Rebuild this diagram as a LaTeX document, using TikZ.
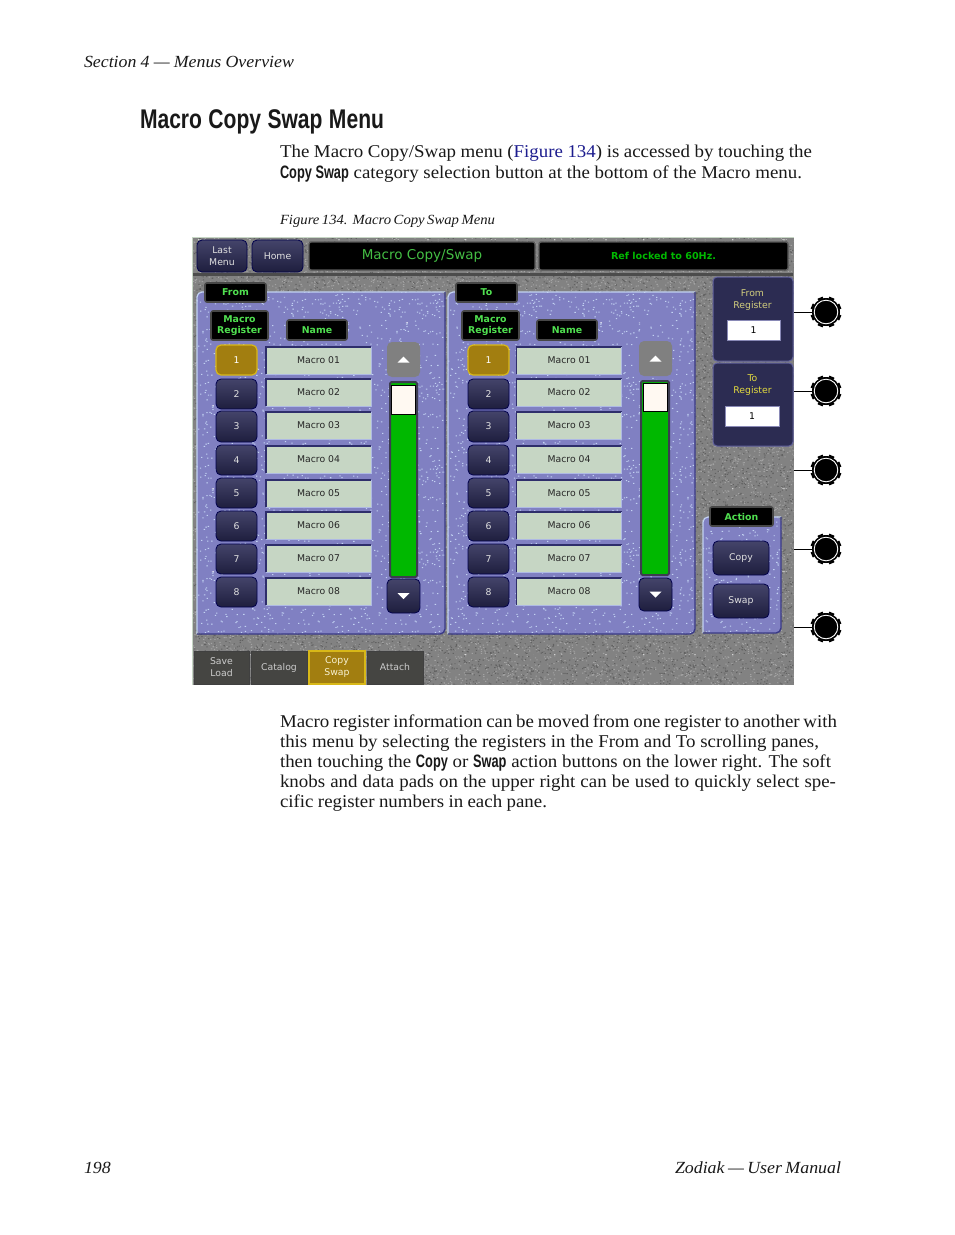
\documentclass[tikz,border=0pt]{standalone}
\usepackage{fontspec}
\setmainfont[FakeStretch=1.05]{Liberation Serif}
\newfontfamily\condf[FakeStretch=0.78]{Liberation Sans}
\newfontfamily\condg[FakeStretch=0.71]{Liberation Sans}
\newfontfamily\uif{DejaVu Sans}
\usetikzlibrary{calc,patterns}
\pgfmathsetseed{134}
\newcommand{\speckbody}[1]{\foreach \i in {1,...,#1}{\pgfmathsetmacro\rx{rnd*95.5}\pgfmathsetmacro\ry{rnd*82}\pgfpathrectangle{\pgfpoint{\rx pt}{\ry pt}}{\pgfqpoint{1.3pt}{1pt}}\pgfusepath{fill}}}
\pgfdeclarepatternformonly{speckA}{\pgfqpoint{0pt}{0pt}}{\pgfqpoint{97pt}{83pt}}{\pgfqpoint{97pt}{83pt}}{\speckbody{420}}
\pgfdeclarepatternformonly{speckB}{\pgfqpoint{0pt}{0pt}}{\pgfqpoint{89pt}{83pt}}{\pgfqpoint{89pt}{83pt}}{\speckbody{420}}
\pgfdeclarepatternformonly{speckC}{\pgfqpoint{0pt}{0pt}}{\pgfqpoint{97pt}{83pt}}{\pgfqpoint{97pt}{83pt}}{\speckbody{180}}
\definecolor{pgray}{HTML}{828282}
\definecolor{ppurple}{HTML}{8080C2}
\definecolor{pdark}{HTML}{3A3A86}
\definecolor{plight}{HTML}{C2D2F2}
\definecolor{btnt}{HTML}{44446A}
\definecolor{btnm}{HTML}{2C2C50}
\definecolor{btnb}{HTML}{1E1E3E}
\definecolor{fieldc}{HTML}{C6D6C4}
\definecolor{uigreen}{HTML}{50E050}
\definecolor{linkblue}{HTML}{1C1C8E}
\definecolor{goldc}{HTML}{A27E10}
\definecolor{goldl}{HTML}{D8B818}
\definecolor{tabc}{HTML}{454542}
\definecolor{regc}{HTML}{2C2C52}
\definecolor{trackc}{HTML}{3C3C50}
\tikzset{
  uibase/.style={anchor=north west,inner sep=0pt,outer sep=0pt,align=center},
  uitext/.style={font=\uif\fontsize{9.3}{12}\selectfont},
  btn/.style={uibase,uitext,text=white!88!black,rounded corners=5pt,draw=black!70!blue,line width=.8pt,top color=btnt,middle color=btnm,bottom color=btnb},
  gold/.style={uibase,uitext,text=white,rounded corners=5pt,draw=goldl,line width=1.2pt,fill=goldc},
  field/.style={uibase,uitext,text=black!85,fill=fieldc},
  lbl/.style={uibase,font=\uif\bfseries\fontsize{9.4}{12}\selectfont,text=uigreen,fill=black,draw=black!72,line width=1.6pt,rounded corners=2pt},
  title/.style={uibase,fill=black,draw=black!65,line width=1.4pt,rounded corners=2pt},
  panel/.style={uibase,fill=ppurple,rounded corners=5pt},
  hl/.style={plight,line width=1.2pt},
  sh/.style={pdark,line width=1.4pt},
  fdark/.style={black!20!pdark,line width=1.3pt},
  flight/.style={plight!70!ppurple,line width=1pt},
  tab/.style={uibase,uitext,text=white!80!black,fill=tabc,draw=black!75,line width=.8pt},
  goldtab/.style={uibase,uitext,text=white!80!goldl,fill=goldc,draw=goldl,line width=1.4pt},
  reg/.style={uibase,rounded corners=4pt,fill=regc,draw=pdark!80,line width=1pt},
  regf/.style={uibase,uitext,fill=white,draw=pdark!60,line width=1pt},
  track/.style={uibase,fill=green!72!black,draw=trackc,line width=2pt,rounded corners=1.5pt},
  thumb/.style={uibase,fill=white!95!orange,draw=black,line width=.6pt},
  upbtn/.style={uibase,rounded corners=5pt,fill=black!50},
  txt/.style={anchor=base west,inner sep=0pt,outer sep=0pt,text=black!90},
  arrowmark/.style={fill=white},
  knobline/.style={black,line width=.9pt},
}
\newcommand{\bx}[7]{\node[#2,minimum width={(#5)-(#3)},minimum height={(#6)-(#4)}] (#1) at (#3,#4) {#7};}
\newcommand{\lineT}[5]{\node[txt] (#1) at (#2,#3) {\fontsize{18}{20}\selectfont\makebox[#4pt][s]{#5}};}
\newcommand{\cb}[1]{{\condg\bfseries #1}}
\newcommand{\fieldbox}[6]{\bx{#1}{field}{#2}{#3}{#4}{#5}{\raisebox{-1pt}{#6}}
  \draw[fdark] (#1.south west)--(#1.north west)--(#1.north east);
  \draw[flight] (#1.south west)--(#1.south east)--(#1.north east);}
\newcommand{\panelbox}[5]{\bx{#1}{panel}{#2}{#3}{#4}{#5}{}}
\newcommand{\knob}[1]{%
  \fill[black] (#1) circle (14);
  \foreach \a in {0,45,...,315}{\draw[black,line width=5.5pt] (#1)++(\a+22.5:13.5)--++(\a+22.5:2);}
  \draw[white,line width=.9pt] (#1) circle (11.8);}
\newcommand{\column}[3]{% #1 prefix, #2 button dx, #3 field dx
  \bx{#1b1}{gold}{216+#2}{345}{257+#2}{375}{\raisebox{-1pt}{1}}
  \foreach \n/\ya/\yb in {2/379/409,3/411/442,4/445/475,5/478/508,6/511/541,7/544/574,8/577/607}{
    \bx{#1b\n}{btn}{216+#2}{\ya}{257+#2}{\yb}{\raisebox{-.5pt}{\n}}
  }
  \foreach \n/\fa/\fb in {1/347/374,2/379/406,3/412/439,4/446/473,5/480/507,6/512/539,7/545/572,8/578/605}{
    \fieldbox{#1f\n}{266+#3}{\fa}{371+#3}{\fb}{Macro 0\n}
  }
}
\begin{document}
\begin{tikzpicture}[x=1pt,y=-1pt]
\useasboundingbox (0,0) rectangle (954,1235);
\fill[white] (0,0) rectangle (954,1235);
% page text
\node[txt,font=\itshape\fontsize{17}{20}\selectfont] (sec) at (84,67) {\makebox[210pt][s]{Section 4 — Menus Overview}};
\node[txt,font=\condf\bfseries\fontsize{27}{30}\selectfont] (head) at (140,128) {\makebox[244pt][s]{Macro Copy Swap Menu}};
\lineT{l1}{280}{157}{532}{The Macro Copy/Swap menu (\textcolor{linkblue}{Figure 134}) is accessed by touching the}
\lineT{l2}{280}{178}{522}{\cb{Copy Swap} category selection button at the bottom of the Macro menu.}
\node[txt,font=\itshape\fontsize{14}{16}\selectfont] (cap) at (280,224) {\makebox[215pt][s]{Figure 134.\ \ Macro Copy Swap Menu}};
\lineT{p1}{280}{727}{557}{Macro register information can be moved from one register to another with}
\lineT{p2}{280}{747}{539}{this menu by selecting the registers in the From and To scrolling panes,}
\lineT{p3}{280}{767}{551}{then touching the \cb{Copy} or \cb{Swap} action buttons on the lower right. The soft}
\lineT{p4}{280}{787}{556}{knobs and data pads on the upper right can be used to quickly select spe-}
\lineT{p5}{280}{807}{267}{cific register numbers in each pane.}
\node[txt,font=\itshape\fontsize{17}{20}\selectfont] (pg) at (84,1173) {198};
\node[txt,anchor=base east,font=\itshape\fontsize{17}{20}\selectfont] (man) at (841,1173) {\makebox[166pt][s]{Zodiak — User Manual}};
% screen background
\bx{screen}{uibase,fill=pgray}{192}{237}{793.5}{684.5}{}
\fill[pattern=speckA,pattern color=black!62] (screen.south west) rectangle (screen.north east);
\fill[pattern=speckB,pattern color=black!36] (screen.south west) rectangle (screen.north east);
\draw[fieldc,line width=.8pt] (screen.south west)--(screen.north west)--(screen.north east);
\fill[black!70] (193,273) rectangle (793,276);
% top bar
\bx{last}{btn}{197}{240}{247}{272}{Last\\Menu}
\bx{home}{btn}{252}{240}{303}{272}{Home}
\bx{ttl}{title,font=\uif\fontsize{13.5}{16}\selectfont,text=uigreen!85!black}{309}{242}{535}{270}{Macro Copy/Swap}
\bx{ref}{title,font=\uif\bfseries\fontsize{9.6}{12}\selectfont,text=green!72!black}{539}{242}{788}{270}{Ref locked to 60Hz.}
% panels
\panelbox{pfrom}{197}{292}{445}{634}
\panelbox{pto}{448}{292}{695}{634}
\panelbox{pact}{703}{517}{781}{633}
\foreach \p in {pfrom,pto,pact}{
  \fill[pattern=speckC,pattern color=plight,rounded corners=5pt] (\p.south west) rectangle (\p.north east);
  \draw[hl,rounded corners=5pt] (\p.south west)--(\p.north west)--(\p.north east);
  \draw[sh,rounded corners=5pt] (\p.south west)--(\p.south east)--(\p.north east);
}
% labels
\bx{lfrom}{lbl}{205}{283}{266}{302}{From}
\bx{lmr}{lbl}{211}{311}{268}{340}{Macro\\[-1pt]Register}
\bx{lname}{lbl}{287}{320}{347}{340}{Name}
\bx{lto}{lbl}{456}{283}{517}{302}{To}
\bx{lmr2}{lbl}{462}{311}{519}{340}{Macro\\[-1pt]Register}
\bx{lname2}{lbl}{537}{320}{597}{340}{Name}
% columns
\column{a}{0}{0}
\column{c}{252}{250.5}
% scrollers
\bx{upa}{upbtn}{387}{342}{420}{377}{}
\bx{dna}{btn}{387}{579}{420}{613}{}
\bx{tra}{track}{390}{382}{417}{577}{}
\bx{tha}{thumb}{391}{385}{415}{414}{}
\bx{upc}{upbtn}{639}{341}{672}{376}{}
\bx{dnc}{btn}{639}{578}{672}{611}{}
\bx{trc}{track}{641}{381}{669}{575}{}
\bx{thc}{thumb}{643}{383}{667}{411}{}
\foreach \u in {upa,upc}{\fill[arrowmark] ($(\u.center)+(-6,3)$)--($(\u.center)+(6,3)$)--($(\u.center)+(0,-3)$)--cycle;}
\foreach \d in {dna,dnc}{\fill[arrowmark] ($(\d.center)+(-6,-3)$)--($(\d.center)+(6,-3)$)--($(\d.center)+(0,3)$)--cycle;}
% register pads
\bx{rfrom}{reg}{713}{277}{793}{361}{}
\bx{rto}{reg}{713}{363}{793}{446}{}
\node[uibase,uitext,anchor=center,text=white!60!olive] (tfrom) at (752.5,300.5) {From\\Register};
\node[uibase,uitext,anchor=center,text=yellow!85!black!85] (tto) at (752.5,385.5) {To\\Register};
\bx{ffrom}{regf}{727}{320}{780}{340}{1}
\bx{fto}{regf}{725}{406}{779}{426}{1}
% action
\bx{lact}{lbl}{710}{507}{773}{526}{Action}
\bx{bcopy}{btn}{713}{541}{769}{575}{Copy}
\bx{bswap}{btn}{713}{584}{769}{618}{Swap}
% bottom tabs
\bx{tsave}{tab}{194}{651}{249}{684}{Save\\Load}
\bx{tcat}{tab}{251}{651}{307}{684}{Catalog}
\bx{tcopy}{goldtab}{309}{651}{365}{684}{Copy\\Swap}
\bx{tatt}{tab}{367}{651}{423}{684}{Attach}
% knobs
\foreach \k/\y in {1/312,2/391,3/470,4/549,5/627}{
  \coordinate (k\k) at (826,\y);
  \coordinate (s\k) at (794,\y);
  \draw[knobline] (s\k)--(k\k);
  \knob{k\k}
}
\end{tikzpicture}
\end{document}
